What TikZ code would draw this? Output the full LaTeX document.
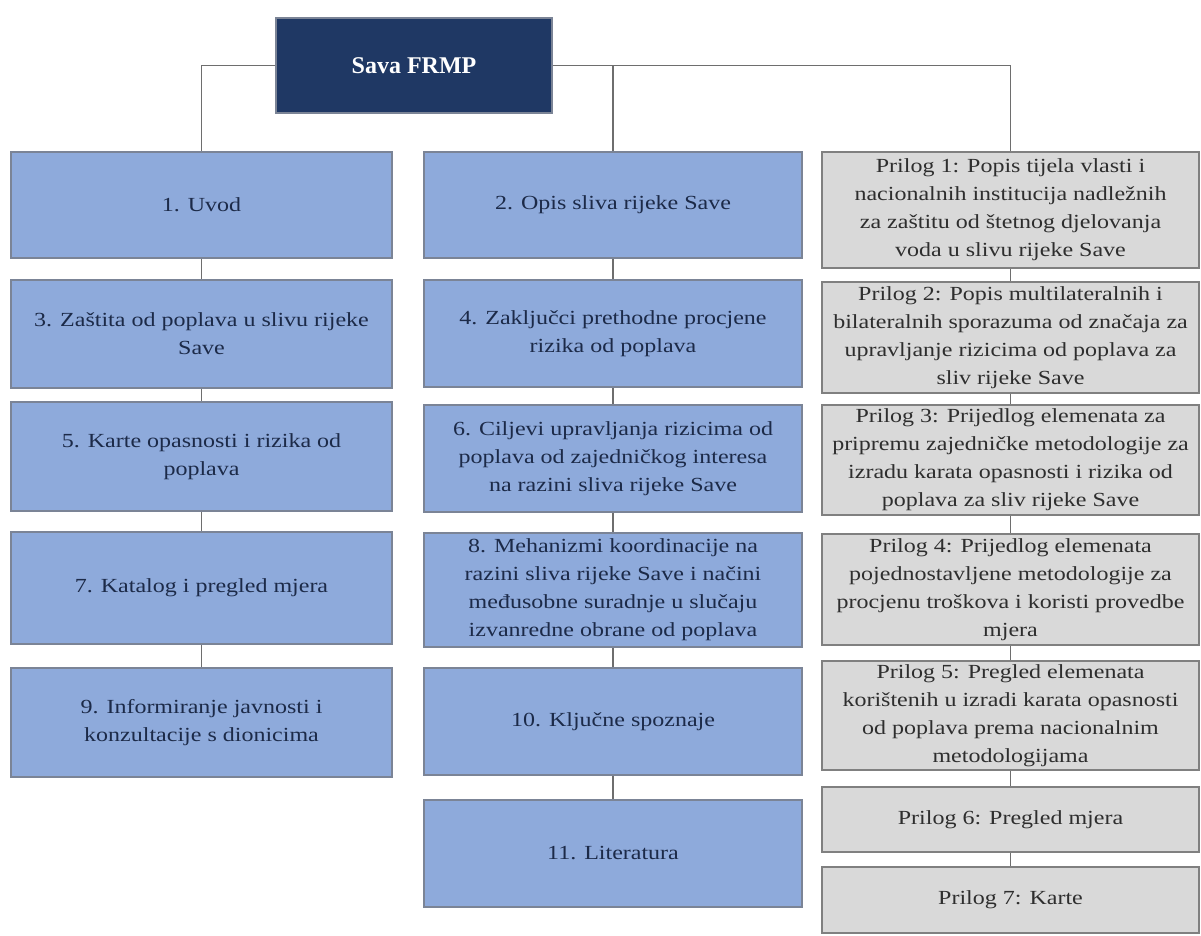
\documentclass[tikz,border=0pt]{standalone}
\usepackage{fontspec}
\setmainfont{Liberation Serif}[FakeStretch=1.2]
\newfontfamily\titlefont{Liberation Serif}
\definecolor{navy}{HTML}{1F3864}
\definecolor{bluefill}{HTML}{8EAADB}
\definecolor{blueborder}{HTML}{7B8496}
\definecolor{bluetext}{HTML}{1C2A48}
\definecolor{grayfill}{HTML}{D9D9D9}
\definecolor{grayborder}{HTML}{808080}
\definecolor{graytext}{HTML}{2E2E2E}
\definecolor{linecol}{HTML}{6E6E6E}
\begin{document}
\begin{tikzpicture}[x=1pt,y=-1pt,
  boxbase/.style={draw, line width=1.5pt, inner sep=0pt, align=center,
    font=\fontsize{20}{28}\selectfont},
  topbox/.style={boxbase, fill=navy, draw=blueborder, text=white,
    font=\titlefont\bfseries\fontsize{24}{28}\selectfont},
  bluebox/.style={boxbase, fill=bluefill, draw=blueborder, text=bluetext},
  graybox/.style={boxbase, fill=grayfill, draw=grayborder, text=graytext},
  leftcol/.style={bluebox, minimum width=381},
  midcol/.style={bluebox, minimum width=378},
  rightcol/.style={graybox, minimum width=377},
  conn/.style={draw=linecol, line width=1.5pt}]
\useasboundingbox[fill=white] (0,0) rectangle (1201,936);

\node[topbox, minimum width=276, minimum height=95] (top) at (414,65.5) {Sava FRMP};

% left column
\node[leftcol, minimum height=106] (b1) at (201.5,205) {1. Uvod};
\node[leftcol, minimum height=108] (b3) at (201.5,334) {3. Zaštita od poplava u slivu rijeke\\Save};
\node[leftcol, minimum height=109] (b5) at (201.5,456.5) {5. Karte opasnosti i rizika od\\poplava};
\node[leftcol, minimum height=112] (b7) at (201.5,588) {7. Katalog i pregled mjera};
\node[leftcol, minimum height=109] (b9) at (201.5,722.5) {9. Informiranje javnosti i\\konzultacije s dionicima};

% middle column
\node[midcol, minimum height=106] (b2) at (613,205) {2. Opis sliva rijeke Save};
\node[midcol, minimum height=107] (b4) at (613,333.5) {4. Zaključci prethodne procjene\\rizika od poplava};
\node[midcol, minimum height=107] (b6) at (613,458.5) {6. Ciljevi upravljanja rizicima od\\poplava od zajedničkog interesa\\na razini sliva rijeke Save};
\node[midcol, minimum height=114] (b8) at (613,590) {8. Mehanizmi koordinacije na\\razini sliva rijeke Save i načini\\međusobne suradnje u slučaju\\izvanredne obrane od poplava};
\node[midcol, minimum height=107] (b10) at (613,721.5) {10. Ključne spoznaje};
\node[midcol, minimum height=107] (b11) at (613,853.5) {11. Literatura};

% right column
\node[rightcol, minimum height=116] (p1) at (1010.5,210) {Prilog 1: Popis tijela vlasti i\\nacionalnih institucija nadležnih\\za zaštitu od štetnog djelovanja\\voda u slivu rijeke Save};
\node[rightcol, minimum height=111] (p2) at (1010.5,337.5) {Prilog 2: Popis multilateralnih i\\bilateralnih sporazuma od značaja za\\upravljanje rizicima od poplava za\\sliv rijeke Save};
\node[rightcol, minimum height=110] (p3) at (1010.5,460) {Prilog 3: Prijedlog elemenata za\\pripremu zajedničke metodologije za\\izradu karata opasnosti i rizika od\\poplava za sliv rijeke Save};
\node[rightcol, minimum height=111] (p4) at (1010.5,589.5) {Prilog 4: Prijedlog elemenata\\pojednostavljene metodologije za\\procjenu troškova i koristi provedbe\\mjera};
\node[rightcol, minimum height=109] (p5) at (1010.5,715.5) {Prilog 5: Pregled elemenata\\korištenih u izradi karata opasnosti\\od poplava prema nacionalnim\\metodologijama};
\node[rightcol, minimum height=65] (p6) at (1010.5,819.5) {Prilog 6: Pregled mjera};
\node[rightcol, minimum height=66] (p7) at (1010.5,900) {Prilog 7: Karte};

% connectors from top
\draw[conn] (top.west) -| (b1.north);
\draw[conn] (top.east) -| (p1.north);
\draw[conn] (top.east -| b2.north) -- (b2.north);

% column connectors
\draw[conn] (b1.south) -- (b3.north);
\draw[conn] (b3.south) -- (b5.north);
\draw[conn] (b5.south) -- (b7.north);
\draw[conn] (b7.south) -- (b9.north);

\draw[conn] (b2.south) -- (b4.north);
\draw[conn] (b4.south) -- (b6.north);
\draw[conn] (b6.south) -- (b8.north);
\draw[conn] (b8.south) -- (b10.north);
\draw[conn] (b10.south) -- (b11.north);

\draw[conn] (p1.south) -- (p2.north);
\draw[conn] (p2.south) -- (p3.north);
\draw[conn] (p3.south) -- (p4.north);
\draw[conn] (p4.south) -- (p5.north);
\draw[conn] (p5.south) -- (p6.north);
\draw[conn] (p6.south) -- (p7.north);
\end{tikzpicture}
\end{document}
